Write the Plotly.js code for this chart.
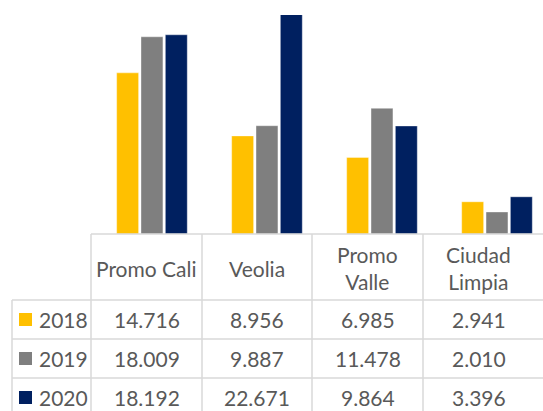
<!DOCTYPE html>
<html><head><meta charset="utf-8">
<script src="https://cdn.plot.ly/plotly-3.0.1.min.js"></script>
<style>body{margin:0;padding:0;background:#fff}#chart{width:543px;height:411px}</style>
</head><body><div id="chart"></div>
<script>
var categories = ["Promo Cali", "Veolia", "Promo Valle", "Ciudad Limpia"];
var headerLabels = ["Promo Cali", "Veolia", "Promo<br>Valle", "Ciudad<br>Limpia"];
var years = ["2018", "2019", "2020"];
var v2018 = [14716, 8956, 6985, 2941];
var v2019 = [18009, 9887, 11478, 2010];
var v2020 = [18192, 22671, 9864, 3396];
var colors = ["#FFC000", "#7F7F7F", "#002060"];
var series = [v2018, v2019, v2020];

function fmt(n){ return String(n).replace(/\B(?=(\d{3})+(?!\d))/g, "."); }

// pixel geometry helpers (plot area: x 94..543, y 15..234)
var L = 94, R = 543, T = 15, B = 234;
function px(x){ return (x - L) / (R - L); }
function py(y){ return (B - y) / (B - T); }

var traces = series.map(function(s, i){
  return {type: "bar", x: [0,1,2,3], y: s, name: years[i],
    marker: {color: colors[i], line: {color: "rgba(255,255,255,0.6)", width: 0.6}},
    hoverinfo: "none", showlegend: false};
});

var colX = [91, 202, 312, 423, 534];
var rowY = [300, 339, 378, 417];
var lineCol = "#D9D9D9";
var shapes = [];
function seg(x0,y0,x1,y1){ shapes.push({type:"line", xref:"paper", yref:"paper", x0:px(x0), y0:py(y0), x1:px(x1), y1:py(y1), line:{color:lineCol, width:1.5}}); }
seg(91, 234, 545, 234);
colX.slice(0, 4).forEach(function(x){ seg(x, 234, x, 420); });
seg(12, 300, 12, 420);
rowY.forEach(function(y){ seg(12, y, 545, y); });

var annotations = [];
var font = {family: "Lato, 'Open Sans', sans-serif", size: 21, color: "#595959"};
categories.forEach(function(c, j){
  annotations.push({xref:"paper", yref:"paper", x:px((colX[j]+colX[j+1])/2), y:py(268), text: headerLabels[j],
    showarrow:false, xanchor:"center", yanchor:"middle", font: font});
});
series.forEach(function(s, i){
  var yc = (rowY[i] + rowY[i+1]) / 2;
  s.forEach(function(v, j){
    annotations.push({xref:"paper", yref:"paper", x:px((colX[j]+colX[j+1])/2), y:py(yc), text: fmt(v),
      showarrow:false, xanchor:"center", yanchor:"middle", font: font});
  });
  annotations.push({xref:"paper", yref:"paper", x:px(37), y:py(yc), text: years[i],
    showarrow:false, xanchor:"left", yanchor:"middle", font: font});
  shapes.push({type:"rect", xref:"paper", yref:"paper", x0:px(19), x1:px(32), y0:py(yc-6.5), y1:py(yc+6.5), fillcolor: colors[i], line:{width:0}});
});

var layout = {
  width: 543, height: 411,
  margin: {l: L, r: 543 - R, t: T, b: 411 - B, pad: 0},
  paper_bgcolor: "#fff", plot_bgcolor: "#fff",
  barmode: "group", bargap: 0.365, bargroupgap: 0.1,
  xaxis: {range: [-0.504, 3.4], showticklabels: false, showgrid: false, zeroline: false, showline: false, ticks: ""},
  yaxis: {range: [0, 20000], showticklabels: false, showgrid: false, zeroline: false, showline: false, ticks: ""},
  shapes: shapes, annotations: annotations
};
Plotly.newPlot("chart", traces, layout, {displayModeBar: false, staticPlot: true});
</script></body></html>
